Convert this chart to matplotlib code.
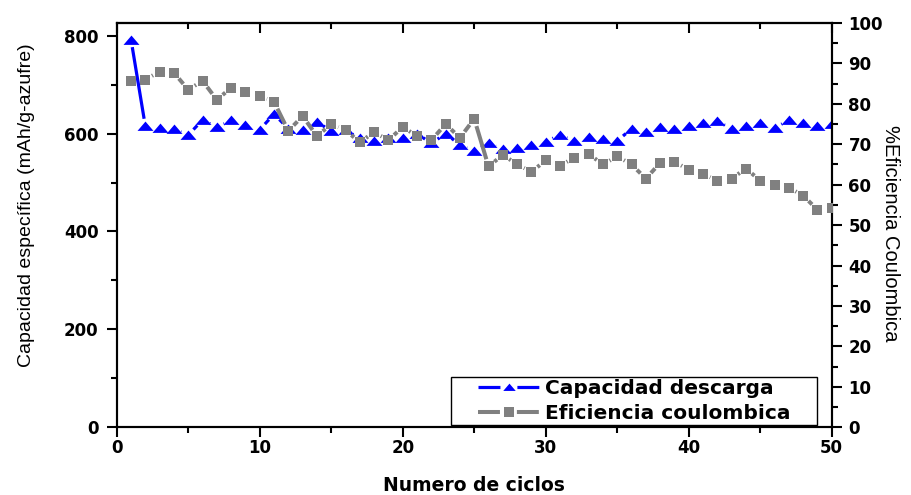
import numpy as np
import matplotlib
matplotlib.use("Agg")
import matplotlib.pyplot as plt
from matplotlib.lines import Line2D
from matplotlib.patches import Rectangle
from matplotlib.ticker import MultipleLocator

plt.rcParams['font.family'] = ['Liberation Sans', 'DejaVu Sans']

# Cycle number
ciclos = list(range(1, 51))

# Discharge capacity (mAh/g-azufre)
capacidad = [792, 615, 612, 610, 597, 628, 613, 627, 618, 608,
             640, 610, 608, 624, 605, 607, 590, 585, 592, 590,
             600, 580, 600, 577, 565, 580, 568, 570, 577, 583,
             598, 585, 593, 588, 585, 610, 603, 613, 610, 616,
             622, 625, 610, 615, 622, 612, 627, 622, 615, 620]

# Coulombic efficiency (%)
eficiencia = [85.7, 86.0, 88.0, 87.7, 83.5, 85.7, 81.0, 84.0, 83.0, 82.0,
              80.5, 73.3, 77.0, 72.0, 75.0, 73.5, 70.5, 73.0, 71.0, 74.3,
              72.0, 71.0, 75.0, 71.6, 76.3, 64.5, 67.4, 65.0, 63.2, 66.0,
              64.7, 66.7, 67.6, 65.0, 67.0, 65.0, 61.5, 65.4, 65.7, 63.7,
              62.7, 61.0, 61.5, 64.0, 61.0, 59.8, 59.3, 57.3, 53.8, 54.3]

etiquetas = ["Capacidad descarga", "Eficiencia coulombica"]

AZUL = "#0000FF"
GRIS = "#808080"
BOLD = ['DejaVu Sans']

fig = plt.figure(figsize=(9.12, 4.95), dpi=100)
ax = fig.add_axes([0.128, 0.137, 0.784, 0.8165])
ax2 = ax.twinx()

ax.set_xlim(0, 50)
ax.set_ylim(0, 826)
ax2.set_ylim(0, 100)

# Triangle marker a bit wider than tall
tri = [(-1.0, -0.55), (1.0, -0.55), (0.0, 0.62), (-1.0, -0.55)]


def gapped_line(axis, xs, ys, color, lw, gap_px):
    """Connect points with segments that stop short of each marker."""
    pts = axis.transData.transform(np.column_stack([xs, ys]))
    for i in range(len(xs) - 1):
        d = pts[i + 1] - pts[i]
        length = np.hypot(d[0], d[1])
        if length <= 2 * gap_px:
            continue
        t = gap_px / length
        x0 = xs[i] + (xs[i + 1] - xs[i]) * t
        x1 = xs[i + 1] - (xs[i + 1] - xs[i]) * t
        y0 = ys[i] + (ys[i + 1] - ys[i]) * t
        y1 = ys[i + 1] - (ys[i + 1] - ys[i]) * t
        axis.plot([x0, x1], [y0, y1], color=color, lw=lw,
                  solid_capstyle='butt', zorder=2)


gapped_line(ax, ciclos, capacidad, AZUL, 2.3, 7.6)
ax.plot(ciclos, capacidad, linestyle='none', marker=tri, markersize=11.5,
        color=AZUL, markeredgewidth=0, zorder=3)

gapped_line(ax2, ciclos, eficiencia, GRIS, 2.9, 7.6)
ax2.plot(ciclos, eficiencia, linestyle='none', marker='s', markersize=7.6,
         color=GRIS, markeredgewidth=0, zorder=3)

# Axes styling
for a in (ax, ax2):
    for s in a.spines.values():
        s.set_linewidth(1.5)

ax.xaxis.set_major_locator(MultipleLocator(10))
ax.xaxis.set_minor_locator(MultipleLocator(5))
ax.yaxis.set_major_locator(MultipleLocator(200))
ax.yaxis.set_minor_locator(MultipleLocator(100))
ax2.yaxis.set_major_locator(MultipleLocator(10))
ax2.yaxis.set_minor_locator(MultipleLocator(5))

ax.tick_params(axis='x', which='both', direction='out', top=False,
               width=1.5, labelsize=12, pad=1.5)
ax.tick_params(axis='x', which='major', length=7)
ax.tick_params(axis='x', which='minor', length=4)
ax.tick_params(axis='y', which='both', direction='out', width=1.5,
               labelsize=12, pad=6)
ax.tick_params(axis='y', which='major', length=7)
ax.tick_params(axis='y', which='minor', length=4)
ax2.tick_params(axis='y', which='both', direction='out', width=1.5,
                labelsize=12, pad=5)
ax2.tick_params(axis='y', which='major', length=7)
ax2.tick_params(axis='y', which='minor', length=4)

# Top axis: inward ticks, no labels
topax = ax.secondary_xaxis('top')
topax.xaxis.set_major_locator(MultipleLocator(10))
topax.xaxis.set_minor_locator(MultipleLocator(5))
topax.tick_params(axis='x', which='both', direction='in', width=1.5, labeltop=False)
topax.tick_params(axis='x', which='major', length=7)
topax.tick_params(axis='x', which='minor', length=4)
topax.spines['top'].set_linewidth(1.5)

for lab in ax.get_xticklabels() + ax.get_yticklabels() + ax2.get_yticklabels():
    lab.set_fontweight('bold')
    lab.set_family(BOLD)

ax.set_xlabel("Numero de ciclos", fontsize=13.5, fontweight='bold',
              family=BOLD, labelpad=14)
ax.set_ylabel("Capacidad específica (mAh/g-azufre)", fontsize=14)
ax.yaxis.set_label_coords(-0.115, 0.55)
ax2.set_ylabel("%Eficiencia Coulombica", fontsize=14.5, rotation=270)
ax2.yaxis.set_label_coords(1.095, 0.48)

# Legend: line - marker - line
def proxy(color, marker, ms, lw):
    seg = Line2D([], [], color=color, lw=lw, dashes=(15.8 / lw, 12.2 / lw),
                 dash_capstyle='butt')
    mk = Line2D([], [], color=color, linestyle='none', marker=marker,
                markersize=ms, markeredgewidth=0)
    return (seg, mk)

leg = ax2.legend([proxy(AZUL, tri, 9, 2.3), proxy(GRIS, 's', 6.5, 2.9)],
                 etiquetas, loc='lower right', bbox_to_anchor=(0.945, 0.005),
                 borderaxespad=0, frameon=False, handlelength=3.03,
                 handletextpad=0.25, borderpad=0.12, labelspacing=0.28,
                 prop={'size': 14.5, 'weight': 'bold', 'family': BOLD})

# Legend box with wider side padding
fig.canvas.draw()
bb = leg.get_window_extent(fig.canvas.get_renderer())
bb_ax = bb.transformed(ax2.transAxes.inverted())
padx = 25 / (ax2.bbox.width)
frame = Rectangle((bb_ax.x0 - padx, bb_ax.y0), bb_ax.width + 2 * padx, bb_ax.height,
                  transform=ax2.transAxes, facecolor='white', edgecolor='black',
                  linewidth=1.0, zorder=4.9)
ax2.add_patch(frame)

fig.savefig("out.png", dpi=100)
